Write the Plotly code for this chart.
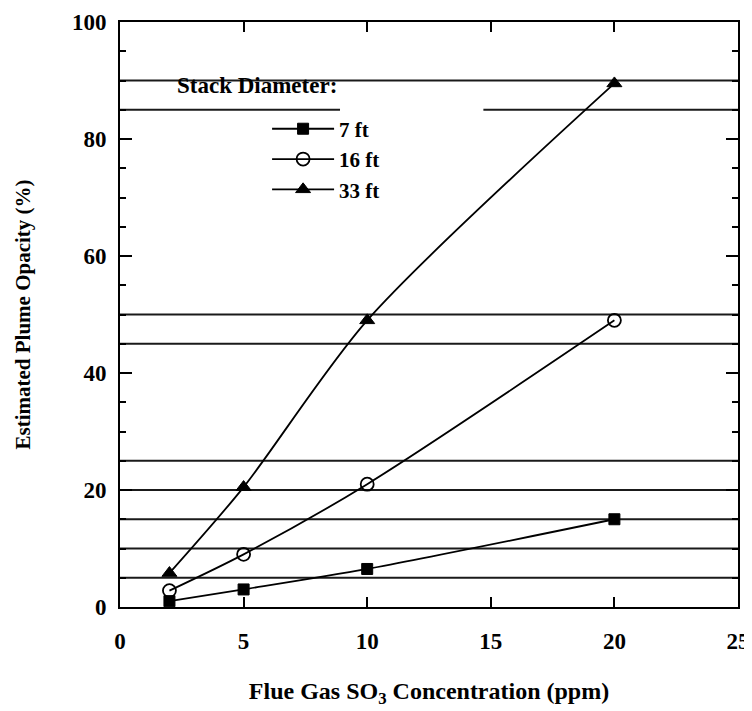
import plotly.graph_objects as go

# ---- data ----
so3_ppm = [2, 5, 10, 20]
opacity_7ft = [1.0, 3.0, 6.5, 15.0]
opacity_16ft = [2.8, 9.0, 21.0, 49.0]
opacity_33ft = [5.8, 20.5, 49.0, 89.5]
series_names = ["7 ft", "16 ft", "33 ft"]
x_ticks = [0, 5, 10, 15, 20, 25]
y_ticks = [0, 20, 40, 60, 80, 100]

# horizontal scan-line artifacts of the original (y value, x start, x end)
scan_line_y = [90, 85, 85, 50, 45, 25, 20, 15, 10, 5]
scan_line_x0 = [0, 0, 14.7, 0, 0, 0, 0, 0, 0, 0]
scan_line_x1 = [25, 8.9, 25, 25, 25, 25, 25, 25, 25, 25]

FONT = "Liberation Serif"

fig = go.Figure()

marker_styles = [
    dict(symbol="square", size=11, color="black", line=dict(color="black", width=1)),
    dict(symbol="circle-open", size=13, color="black", line=dict(color="black", width=1.8)),
    dict(symbol="triangle-up", size=13, color="black", line=dict(color="black", width=1)),
]
for name, ys, mk in zip(series_names, [opacity_7ft, opacity_16ft, opacity_33ft], marker_styles):
    fig.add_trace(go.Scatter(
        x=so3_ppm, y=ys, name=name, mode="lines+markers",
        line=dict(color="black", width=1.8, shape="spline", smoothing=0.8),
        marker=mk, legendgroup=name,
    ))

for y, x0, x1 in zip(scan_line_y, scan_line_x0, scan_line_x1):
    fig.add_shape(type="line", xref="x", yref="y", x0=x0, x1=x1, y0=y, y1=y,
                  line=dict(color="#1a1a1a", width=1.8), layer="below")

fig.add_annotation(text="Stack Diameter:", xref="paper", yref="paper",
                   x=0.089, y=0.892, xanchor="left", yanchor="middle", showarrow=False,
                   font=dict(family=FONT, size=23, color="black", weight="bold"))

axis_common = dict(showline=True, linewidth=2, linecolor="black", mirror="ticks",
                   ticks="inside", tickcolor="black", tickwidth=2, showgrid=False,
                   zeroline=False, automargin=False,
                   tickfont=dict(family=FONT, size=23, color="black", weight="bold"))

# page body has an 8px margin, so the figure is sized/offset to compensate
fig.update_layout(
    width=744, height=703,
    margin=dict(l=112, r=14, t=14, b=104),
    paper_bgcolor="white", plot_bgcolor="white",
    showlegend=True,
    legend=dict(x=0.238, y=0.852, xanchor="left", yanchor="top",
                bgcolor="rgba(0,0,0,0)", borderwidth=0, tracegroupgap=0,
                itemwidth=62,
                font=dict(family=FONT, size=21, color="black", weight="bold")),
    xaxis=dict(range=[0, 25], tickvals=x_ticks, ticklen=10, ticklabelstandoff=12,
               title=dict(text="Flue Gas SO<sub>3</sub> Concentration (ppm)", standoff=30,
                          font=dict(family=FONT, size=24, color="black", weight="bold")),
               **axis_common),
    yaxis=dict(range=[0, 100], tickvals=y_ticks, ticklen=12, ticklabelstandoff=7,
               minor=dict(dtick=5, ticks="inside", ticklen=6, tickcolor="black", tickwidth=2),
               title=dict(text="Estimated Plume Opacity (%)", standoff=36,
                          font=dict(family=FONT, size=21, color="black", weight="bold")),
               **axis_common),
)

fig.write_html("out.html")
